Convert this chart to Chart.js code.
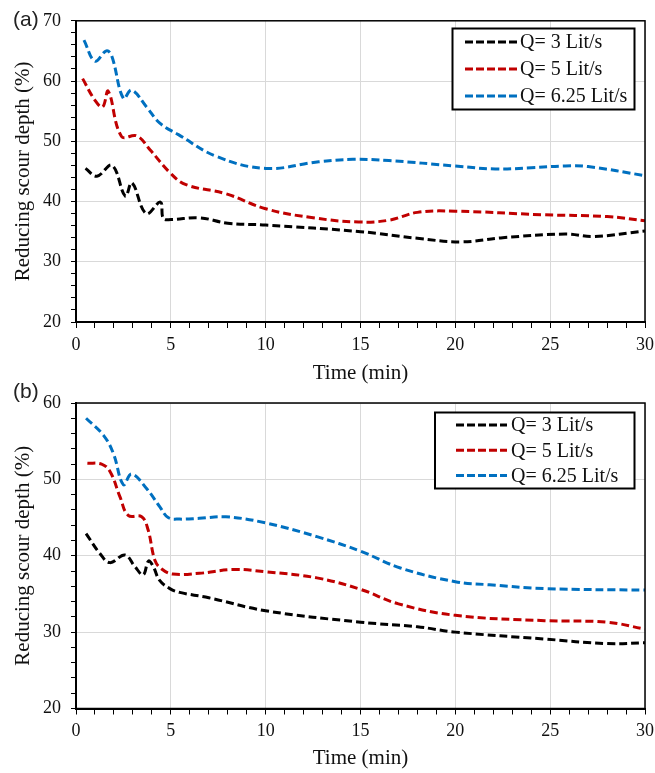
<!DOCTYPE html>
<html>
<head>
<meta charset="utf-8">
<script src="https://cdn.jsdelivr.net/npm/chart.js@4/dist/chart.umd.min.js"></script>
<style>
  body { margin: 0; background: #fff; }
  #wrap { position: relative; width: 655px; height: 773px; overflow: hidden; }
  canvas { position: absolute; left: 0; }
  #chartA { top: 0; }
  #chartB { top: 380px; }
  .tag { position: absolute; left: 13px; font: 21px "Liberation Sans", Arial, sans-serif; color: #222; }
</style>
</head>
<body>
<div id="wrap">
  <canvas id="chartA" width="655" height="392"></canvas>
  <canvas id="chartB" width="655" height="393"></canvas>
  <div class="tag" style="top:7px">(a)</div>
  <div class="tag" style="top:379px">(b)</div>
</div>
<script>
// series labels
var seriesNames = ['Q= 3 Lit/s', 'Q= 5 Lit/s', 'Q= 6.25 Lit/s'];
var seriesColors = ['#000000', '#c00000', '#0070c0'];

// panel (a)
var timeA3 = [0.5, 1.1, 1.9, 2.6, 2.95, 3.7, 4.45, 4.6, 5, 6.5, 8, 10, 15, 18, 20.3, 22.5, 25.8, 27.3, 30];
var depthA3 = [45.5, 44.2, 46.0, 40.9, 43.1, 38.0, 39.9, 37.2, 37.0, 37.3, 36.4, 36.1, 35.0, 33.9, 33.3, 34.0, 34.6, 34.2, 35.1];
var timeA5 = [0.35, 1.0, 1.4, 1.7, 2.4, 3.2, 3.9, 4.95, 5.8, 7.9, 10, 12.5, 14.9, 16.5, 18, 20, 24.6, 28, 30];
var depthA5 = [60.4, 56.8, 55.7, 58.3, 50.8, 50.9, 48.6, 44.8, 42.8, 41.3, 38.8, 37.3, 36.6, 36.9, 38.2, 38.4, 37.8, 37.5, 36.8];
var timeA625 = [0.42, 1.0, 1.6, 1.88, 2.5, 2.93, 3.72, 4.42, 5.4, 7.4, 10, 12.8, 14.6, 16.5, 20, 22.1, 24, 25.8, 27, 30];
var depthA625 = [66.8, 63.3, 65.0, 64.2, 57.1, 58.5, 55.7, 53.0, 51.1, 47.5, 45.5, 46.6, 47.0, 46.8, 45.9, 45.4, 45.6, 45.9, 45.8, 44.3];

// panel (b)
var timeB3 = [0.53, 1.26, 1.79, 2.58, 3.1, 3.54, 3.82, 4.07, 4.4, 4.95, 5.47, 7, 10, 15, 18, 20, 24.7, 28, 30];
var depthB3 = [42.9, 40.3, 39.1, 40.1, 38.6, 37.5, 39.3, 38.6, 36.8, 35.7, 35.2, 34.5, 32.8, 31.3, 30.7, 30.0, 29.1, 28.5, 28.6];
var timeB5 = [0.6, 1.35, 1.8, 2.32, 2.75, 3.46, 3.8, 4.16, 4.5, 5.1, 6.5, 8.3, 10, 12.7, 15, 17, 20, 24.7, 28, 30];
var depthB5 = [52.1, 52.0, 51.0, 47.7, 45.3, 45.1, 43.4, 39.4, 38.3, 37.6, 37.7, 38.2, 37.9, 37.1, 35.6, 33.7, 32.2, 31.5, 31.3, 30.4];
var timeB625 = [0.53, 1.44, 1.97, 2.5, 2.93, 3.72, 4.42, 4.86, 5.47, 6.5, 7.9, 10, 12.7, 15, 17.1, 20, 21.8, 24.7, 30];
var depthB625 = [58.0, 55.8, 53.4, 49.3, 50.7, 48.8, 46.4, 45.0, 44.8, 44.9, 45.1, 44.3, 42.5, 40.6, 38.4, 36.6, 36.2, 35.7, 35.5];

var serif = '"Liberation Serif", "Times New Roman", serif';

function pts(xs, ys) {
  return xs.map(function (x, i) { return { x: x, y: ys[i] }; });
}

function makeSets(times, depths) {
  return seriesNames.map(function (name, i) {
    return {
      label: name,
      data: pts(times[i], depths[i]),
      borderColor: seriesColors[i],
      borderWidth: 3,
      borderDash: [8, 4],
      pointRadius: 0,
      tension: 0.4,
      fill: false
    };
  });
}

// black frame round the plot area
var framePlugin = {
  id: 'frame',
  afterDatasetsDraw: function (chart) {
    var a = chart.chartArea, c = chart.ctx;
    c.save();
    c.strokeStyle = '#000';
    c.lineWidth = 1.5;
    c.strokeRect(a.left, a.top, a.right - a.left, a.bottom - a.top);
    c.restore();
  }
};

// boxed legend inside the plot
var boxLegend = {
  id: 'boxLegend',
  afterDraw: function (chart, args, o) {
    var c = chart.ctx;
    c.save();
    c.fillStyle = '#fff';
    c.fillRect(o.x, o.y, o.w, o.h);
    c.strokeStyle = '#000';
    c.lineWidth = 2;
    c.strokeRect(o.x, o.y, o.w, o.h);
    c.font = '20px ' + serif;
    c.textBaseline = 'middle';
    chart.data.datasets.forEach(function (ds, i) {
      var y = o.rowTop + i * o.rowStep;
      c.strokeStyle = ds.borderColor;
      c.lineWidth = 3;
      c.setLineDash([8, 3]);
      c.beginPath();
      c.moveTo(o.lineX, y);
      c.lineTo(o.lineX + o.lineW, y);
      c.stroke();
      c.setLineDash([]);
      c.fillStyle = '#111';
      c.fillText(ds.label, o.textX, y + 1);
    });
    c.restore();
  }
};

function makeChart(id, sets, yMax, pad, xHeight, titlePadBottom, legendBox) {
  return new Chart(document.getElementById(id), {
    type: 'line',
    data: { datasets: sets },
    plugins: [framePlugin, boxLegend],
    options: {
      responsive: false,
      animation: false,
      layout: { padding: { top: pad, right: 10, left: 0, bottom: 0 } },
      plugins: {
        legend: { display: false },
        tooltip: { enabled: false },
        boxLegend: legendBox
      },
      scales: {
        x: {
          type: 'linear',
          min: 0,
          max: 30,
          afterFit: function (s) {
            s.height = xHeight;
            s.paddingLeft = 0;
            s.paddingRight = 8;
          },
          border: { color: '#000', width: 2 },
          grid: {
            color: function (c) { return c.tick && c.tick.value % 5 === 0 ? '#d9d9d9' : 'rgba(0,0,0,0)'; },
            tickColor: '#000',
            tickLength: 6,
            lineWidth: 1
          },
          ticks: {
            stepSize: 1,
            autoSkip: false,
            maxRotation: 0,
            padding: 6,
            color: '#111',
            font: { family: serif, size: 18 },
            callback: function (v) { return v % 5 === 0 ? v : ''; }
          },
          title: {
            display: true,
            text: 'Time (min)',
            color: '#111',
            font: { family: serif, size: 21 },
            padding: { top: 0, bottom: titlePadBottom }
          }
        },
        y: {
          min: 20,
          max: yMax,
          afterFit: function (s) { s.width = 76; },
          border: { color: '#000', width: 2 },
          grid: {
            color: function (c) { return c.tick && c.tick.value % 10 === 0 ? '#d9d9d9' : 'rgba(0,0,0,0)'; },
            tickColor: '#000',
            tickLength: 5,
            lineWidth: 1
          },
          ticks: {
            stepSize: 2,
            autoSkip: false,
            padding: 10,
            color: '#111',
            font: { family: serif, size: 18 },
            callback: function (v) { return v % 10 === 0 ? v : ''; }
          },
          title: {
            display: true,
            text: 'Reducing scour depth (%)',
            color: '#111',
            font: { family: serif, size: 21 },
            padding: { top: 11, bottom: 0 }
          }
        }
      }
    }
  });
}

makeChart('chartA',
  makeSets([timeA3, timeA5, timeA625], [depthA3, depthA5, depthA625]),
  70, 16, 70, 6,
  { x: 452.5, y: 28.5, w: 182, h: 81, rowTop: 42, rowStep: 27, lineX: 465, lineW: 52, textX: 520 });

makeChart('chartB',
  makeSets([timeB3, timeB5, timeB625], [depthB3, depthB5, depthB625]),
  60, 23, 64.5, 2,
  { x: 435, y: 32.5, w: 199.5, h: 76, rowTop: 45, rowStep: 25.3, lineX: 456, lineW: 51, textX: 511 });
</script>
</body>
</html>
